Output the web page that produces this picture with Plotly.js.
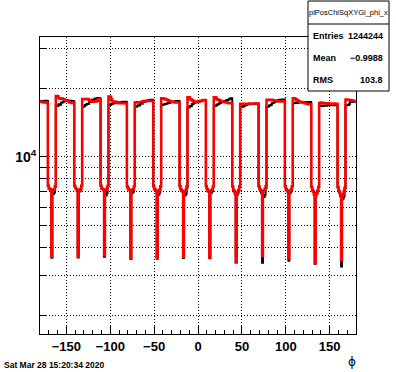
<!DOCTYPE html>
<html>
<head>
<meta charset="utf-8">
<script src="https://cdn.plot.ly/plotly-3.0.1.min.js"></script>
<style>html,body{margin:0;padding:0;background:#fff;}#chart{width:396px;height:372px;}</style>
</head>
<body>
<div id="chart"></div>
<script>
// Histogram binning (phi, degrees)
const phiMin = -180;
const binWidth = 1;

// Red histogram counts, 360 bins, 12 rows of 30 bins each
const redCounts = [
  17500,17450,17400,17350,17350,17300,17300,17300,17250, 7450,7250,7200,7150,3640,7100,7150,7200,7400, 18500,18500,18450,18100,18100,18050,18000,18050,17950,17900,17700,17700,
  17650,17700,17600,17350,17300,17300,17250,17300,17300, 7450,7300,7200,7150,3620,7150,7100,7200,7450, 17950,17950,17900,17950,17900,17900,17950,17900,17600,17550,17500,17500,
  17450,17500,17550,17500,17550,17600,17900,17950,17900, 7450,7250,7200,7150,3670,7100,7150,7250,7450, 18400,18400,18350,17900,17600,17500,17450,17500,17400,17300,17250,17300,
  17200,17250,17200,17200,17250,17200,17200,17150,17200, 7400,7250,7150,7150,3560,7100,7150,7200,7400, 17300,17300,17350,17300,17300,17300,17350,17300,17500,17550,17600,17600,
  17650,17650,17600,17650,17650,17600,17650,17650,17600, 7400,7200,7150,7100,3590,7000,7050,7150,7400, 18100,18100,18050,18000,17900,17950,17800,17750,17700,17600,17550,17500,
  17450,17400,17400,17350,17300,17300,17350,17300,17300, 7400,7200,7100,7050,3620,7000,7050,7150,7400, 18250,18250,18200,17900,17850,17700,17650,17500,17450,17500,17450,17500,
  17500,17550,17600,17600,17650,17700,17750,17750,17750, 7400,7200,7100,7050,3600,7050,7100,7200,7400, 18250,18250,18200,17900,17850,17800,17700,17650,17600,17550,17500,17450,
  17400,17350,17300,17300,17250,17200,17250,17200,17200, 7400,7150,7050,6850,3430,6800,7000,7150,7400, 17100,17100,17050,17100,17100,17050,17100,17100,17050,17100,17150,17100,
  17100,17050,17100,17100,17150,17150,17100,17150,17100, 7400,7200,7100,7050,3650,7050,7100,7200,7400, 17800,17800,17750,17800,17750,17800,17750,17700,17700,17650,17650,17600,
  17600,17550,17550,17500,17550,17500,17500,17550,17500, 7400,7200,7100,7050,3570,7050,7100,7200,7400, 18100,18100,18050,17900,17800,17700,17600,17500,17450,17400,17400,17350,
  17300,17250,17200,17150,17100,17050,17000,17050,17000, 7350,7100,7000,6800,3390,6750,6900,7100,7350, 17250,17250,17300,17250,17250,17200,17250,17200,17200,17150,17200,17150,
  17150,17100,17150,17100,17100,17150,17100,17100,17100, 7350,7100,6950,6750,3500,6700,6850,7050,7300, 17850,17850,17800,17800,17750,17750,17700,17700,17650,17600,17600,17550
];

// Black histogram counts, 360 bins
const blackCounts = [
  17550,17600,17550,17600,17600,17650,17600,17650,17600, 7450,7250,7200,7150,3590,6900,6850,6950,7350, 16750,16700,16750,17000,17000,16950,17300,17300,17350,17600,17550,17600,
  17600,17650,17600,17550,17600,17650,17600,17600,17550, 7450,7300,7200,7100,3600,7000,7050,7150,7450, 16600,16600,16650,16900,16900,17050,17050,17100,17450,17400,17500,17800,
  17750,17800,18000,18050,18000,18100,18150,18100,18100, 7450,7250,7200,7100,3620,6800,6750,6900,7400, 16900,16900,16950,17000,17100,17150,17200,17200,17300,17300,17350,17300,
  17350,17400,17350,17400,17450,17400,17400,17450,17400, 7400,7250,7150,7100,3540,6900,6950,7000,7400, 16600,16600,16650,16800,16850,16800,17100,17150,17100,17400,17450,17400,
  17550,17600,17600,17700,17750,17700,17800,17750,17800, 7400,7200,7150,7050,3550,6850,6800,6950,7350, 16900,16900,16950,17000,17000,17100,17100,17200,17300,17250,17300,17400,
  17400,17450,17500,17500,17550,17600,17600,17550,17600, 7400,7200,7100,7000,3580,6800,6750,6850,7300, 16500,16450,16500,16700,16700,17000,17050,17250,17300,17300,17350,17400,
  17450,17500,17550,17600,17650,17700,17700,17750,17700, 7400,7200,7050,7000,3570,6900,6950,7050,7400, 16700,16700,16750,16900,17000,17000,17200,17250,17300,17400,17450,17500,
  17550,17600,17700,17700,17800,17900,18000,18100,18100, 7400,7150,7050,6900,3420,6850,6900,7050,7350, 16600,16600,16650,16600,16700,16800,16850,16900,17000,17000,17050,17100,
  17100,17050,17100,17100,17150,17100,17150,17100,17150, 7400,7200,7050,6900,3410,6700,6650,6800,7300, 16600,16600,16650,16800,16850,16900,17200,17250,17300,17450,17500,17550,
  17650,17700,17750,17800,17800,17850,17800,17800,17850, 7400,7200,7100,7000,3480,6900,6950,7050,7400, 17200,17200,17250,17300,17300,17250,17300,17350,17350,17300,17350,17400,
  17350,17400,17400,17350,17400,17350,17400,17350,17400, 7350,7150,7050,6950,3380,6850,6900,7050,7350, 16750,16750,16800,16700,16700,16750,16800,16800,16750,16800,16850,16800,
  16850,16900,16850,16900,16900,16850,16900,16900,16850, 7350,7050,6900,6700,3280,6500,6550,6700,7250, 16800,16850,16900,16900,17000,17400,17400,17450,17400,17450,17500,17500
];

// Axis tick values / labels
const yTickVals = [10000];
const yTickText = ['10<sup>4</sup>'];

// Stats box text
const statsTitle = 'plPosChiSqXYGl_phi_x';
const statsLabels = ['Entries','Mean','RMS'];
const statsValues = ['1244244','\u22120.9988','103.8'];
const dateText = 'Sat Mar 28 15:20:34 2020';
const xTitle = '\u03d5';

function stepXY(counts){
  const xs = [], ys = [];
  for (let i = 0; i < counts.length; i++){ xs.push(phiMin + i*binWidth); ys.push(counts[i]); }
  xs.push(phiMin + counts.length*binWidth); ys.push(counts[counts.length-1]);
  return {xs, ys};
}
const b = stepXY(blackCounts), r = stepXY(redCounts);

const FONT = 'Liberation Sans, Arial, Helvetica, sans-serif';
const traces = [
  {x:b.xs, y:b.ys, type:'scatter', mode:'lines', line:{shape:'hv', color:'#000000', width:2}, hoverinfo:'skip'},
  {x:r.xs, y:r.ys, type:'scatter', mode:'lines', line:{shape:'hv', color:'#ff0000', width:2.5}, hoverinfo:'skip'}
];

// layout geometry helpers (plot area 40..356 x 37..334 px)
const L=40, R=356, T=37, B=334;
const px = v => (v - L)/(R - L);
const py = v => (B - v)/(B - T);

const annotations = [
  {text:statsTitle, x:px(348.5), y:py(13), xref:'paper', yref:'paper', showarrow:false, xanchor:'center', yanchor:'middle', font:{family:FONT, size:7.5, color:'#000'}},
  {text:dateText, x:px(2), y:py(365), xref:'paper', yref:'paper', showarrow:false, xanchor:'left', yanchor:'middle', font:{family:FONT, size:8.5, color:'#000', weight:'bold'}},
  {text:xTitle, x:px(352), y:py(362), xref:'paper', yref:'paper', showarrow:false, xanchor:'center', yanchor:'middle', font:{family:'DejaVu Sans, sans-serif', size:12, color:'#000'}}
];
const rowsY = [36, 58, 80];
statsLabels.forEach((lab,i)=>{
  annotations.push({text:lab, x:px(311), y:py(rowsY[i]), xref:'paper', yref:'paper', showarrow:false, xanchor:'left', yanchor:'middle', font:{family:FONT, size:9, color:'#000', weight:'bold'}});
  annotations.push({text:statsValues[i], x:px(385), y:py(rowsY[i]), xref:'paper', yref:'paper', showarrow:false, xanchor:'right', yanchor:'middle', font:{family:FONT, size:9, color:'#000', weight:'bold'}});
});

const gridDash = '1px,2px';
const layout = {
  width:396, height:372,
  margin:{l:L, r:396-R, t:T, b:372-B, pad:0},
  paper_bgcolor:'#ffffff', plot_bgcolor:'#ffffff',
  showlegend:false,
  xaxis:{
    range:[-180,180], tickmode:'linear', tick0:0, dtick:50,
    ticks:'inside', ticklen:8, tickwidth:1, tickcolor:'#000',
    minor:{dtick:10, ticks:'inside', ticklen:4, tickwidth:1, tickcolor:'#000', showgrid:false},
    showgrid:true, gridcolor:'#000', gridwidth:1, griddash:gridDash,
    showline:true, linecolor:'#000', linewidth:1, mirror:true, zeroline:false,
    tickfont:{family:FONT, size:13, color:'#000', weight:'bold'}
  },
  yaxis:{
    type:'log', range:[3.219, 4.527],
    tickmode:'array', tickvals:yTickVals, ticktext:yTickText,
    ticks:'inside', ticklen:6, tickwidth:1, tickcolor:'#000',
    minor:{dtick:'D1', ticks:'inside', ticklen:6, tickwidth:1, tickcolor:'#000', showgrid:true, gridcolor:'#000', gridwidth:1, griddash:gridDash},
    showgrid:true, gridcolor:'#000', gridwidth:1, griddash:gridDash,
    showline:true, linecolor:'#000', linewidth:1, mirror:true, zeroline:false,
    tickfont:{family:FONT, size:14, color:'#000', weight:'bold'}
  },
  shapes:[
    {type:'rect', xref:'paper', yref:'paper', x0:px(308), x1:px(389), y0:py(91), y1:py(1), line:{color:'#000', width:1}, fillcolor:'#ffffff', layer:'above'},
    {type:'line', xref:'paper', yref:'paper', x0:px(308), x1:px(389), y0:py(24), y1:py(24), line:{color:'#000', width:1}, layer:'above'}
  ],
  annotations:annotations
};

Plotly.newPlot('chart', traces, layout, {staticPlot:true, displayModeBar:false});
</script>
</body>
</html>
